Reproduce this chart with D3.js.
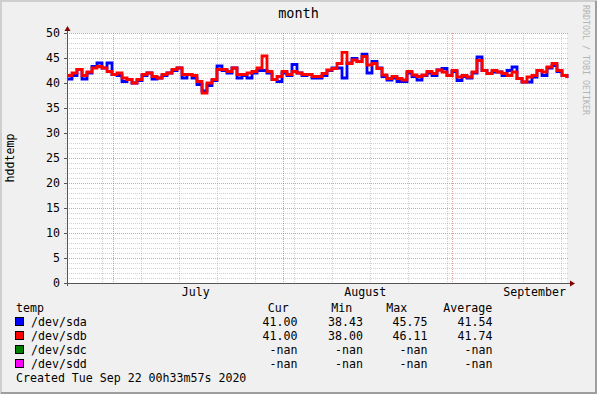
<!DOCTYPE html>
<html>
<head>
<meta charset="utf-8">
<script src="https://cdn.jsdelivr.net/npm/d3@7"></script>
<style>
body { margin: 0; background: #f0f0f0; }
text { font-family: "DejaVu Sans Mono", monospace; fill: #000; }
</style>
</head>
<body>
<script>
const w = 597, h = 394;
const x0 = 67, x1 = 567, yTop = 33, yBot = 283;

// rrd archive: 101 consolidated rows, evenly spaced
const startTime = new Date(2020, 5, 22, 12, 34);
const endTime = new Date(2020, 8, 22, 0, 34);

const sda = [40.8, 41.5, 42.7, 40.8, 42.0, 43.3, 44.0, 43.0, 44.0, 41.7,
             41.5, 40.3, 40.7, 40.0, 40.5, 41.5, 42.0, 40.8, 41.0, 41.5,
             42.0, 42.5, 43.0, 41.0, 41.7, 41.0, 39.7, 38.43, 39.5, 40.5,
             43.4, 42.5, 42.0, 43.0, 41.0, 41.5, 41.0, 42.0, 42.5, 42.5,
             42.0, 40.7, 40.3, 42.0, 41.5, 43.7, 42.0, 41.5, 41.7, 41.0,
             41.0, 41.5, 42.5, 43.0, 43.0, 41.0, 44.0, 44.9, 44.3, 45.75,
             42.0, 44.3, 43.0, 41.3, 40.6, 41.0, 40.3, 40.3, 42.0, 41.3,
             40.6, 41.5, 42.0, 41.5, 42.6, 42.9, 41.5, 42.3, 40.5, 41.3,
             41.0, 42.0, 45.2, 42.5, 41.9, 42.2, 42.2, 41.5, 42.5, 43.2,
             40.9, 40.2, 40.2, 41.2, 42.5, 41.5, 43.0, 43.5, 42.3, 41.5, 41.0];
const sdb = [41.5, 42.0, 42.7, 41.5, 42.2, 43.0, 43.3, 43.0, 42.3, 41.7,
             42.0, 41.0, 40.7, 40.0, 40.7, 41.7, 42.0, 41.3, 41.0, 41.7,
             42.0, 42.7, 43.0, 41.7, 41.7, 41.5, 40.3, 38.0, 40.0, 40.7,
             42.7, 42.7, 42.3, 43.0, 41.7, 41.7, 42.0, 42.3, 43.0, 45.4,
             42.3, 40.7, 41.3, 42.3, 41.7, 42.3, 42.0, 41.7, 41.7, 41.3,
             41.3, 41.9, 42.6, 42.9, 43.9, 46.11, 43.9, 44.6, 44.3, 45.3,
             43.6, 43.9, 42.9, 41.6, 40.9, 41.3, 40.9, 40.6, 42.3, 41.6,
             41.3, 41.6, 42.3, 41.9, 42.6, 42.2, 41.5, 42.5, 41.2, 41.5,
             41.2, 42.2, 44.5, 42.5, 41.9, 42.5, 42.2, 41.9, 41.5, 42.2,
             40.9, 40.2, 41.2, 41.5, 42.5, 42.2, 43.2, 43.9, 42.5, 41.5, 41.0];

const monthNames = ['July', 'August', 'September'];
const monthLabelDates = [new Date(2020, 6, 16), new Date(2020, 7, 16), new Date(2020, 8, 16)];

const legendNames = ['/dev/sda', '/dev/sdb', '/dev/sdc', '/dev/sdd'];
const legendColors = ['#0000ff', '#ff0000', '#007f00', '#ff00ff'];
const legendCur = ['41.00', '41.00', '-nan', '-nan'];
const legendMin = ['38.43', '38.00', '-nan', '-nan'];
const legendMax = ['45.75', '46.11', '-nan', '-nan'];
const legendAvg = ['41.54', '41.74', '-nan', '-nan'];

const step = (endTime - startTime) / (sda.length - 1);
const times = sda.map((d, i) => new Date(+startTime + i * step));

const svg = d3.select('body').append('svg').attr('width', w).attr('height', h);

// frame
svg.append('rect').attr('width', w).attr('height', h).attr('fill', '#f0f0f0');
svg.append('path').attr('d', `M1,${h} V1 H${w}`).attr('stroke', '#cfcfcf').attr('stroke-width', 2).attr('fill', 'none');
svg.append('path').attr('d', `M1,${h-1} H${w-1} V1`).attr('stroke', '#9e9e9e').attr('stroke-width', 2).attr('fill', 'none');

const x = d3.scaleTime().domain([startTime, endTime]).range([x0, x1]);
const y = d3.scaleLinear().domain([0, 50]).range([yBot, yTop]);

svg.append('rect').attr('x', x0).attr('y', yTop).attr('width', x1 - x0).attr('height', yBot - yTop).attr('fill', '#fff');

const gridMinor = 'rgba(140,140,140,0.4)';
const gridMajor = 'rgba(190,40,40,0.45)';

// horizontal grid
const yMinor = d3.range(1, 51).filter(v => v % 5 != 0);
const yMajor = y.ticks(10);
svg.append('g').selectAll('line').data(yMinor).join('line')
  .attr('x1', x0 - 2).attr('x2', x1 + 2)
  .attr('y1', d => y(d) + 0.5).attr('y2', d => y(d) + 0.5)
  .attr('stroke', gridMinor).attr('stroke-dasharray', '1,1');
svg.append('g').selectAll('line').data(yMajor.filter(d => d > 0)).join('line')
  .attr('x1', x0 - 2).attr('x2', x1 + 2)
  .attr('y1', d => y(d) + 0.5).attr('y2', d => y(d) + 0.5)
  .attr('stroke', gridMajor).attr('stroke-dasharray', '1,1');

// vertical grid: mondays and months
const weeks = d3.timeMonday.range(startTime, endTime);
const months = d3.timeMonth.range(startTime, endTime);
svg.append('g').selectAll('line').data(weeks).join('line')
  .attr('x1', d => Math.round(x(d)) + 0.5).attr('x2', d => Math.round(x(d)) + 0.5)
  .attr('y1', yTop).attr('y2', yBot + 2)
  .attr('stroke', gridMinor).attr('stroke-dasharray', '1,1');
svg.append('g').selectAll('line').data(months).join('line')
  .attr('x1', d => Math.round(x(d)) + 0.5).attr('x2', d => Math.round(x(d)) + 0.5)
  .attr('y1', yTop).attr('y2', yBot + 2)
  .attr('stroke', gridMajor).attr('stroke-dasharray', '1,1');

// series
const line = d3.line().x((d, i) => x(times[i])).y(d => y(d)).curve(d3.curveStepAfter);
svg.append('path').datum(sda).attr('d', line).attr('fill', 'none')
  .attr('stroke', '#0000ff').attr('stroke-width', 2.8);
svg.append('path').datum(sdb).attr('d', line).attr('fill', 'none')
  .attr('stroke', '#ff0000').attr('stroke-width', 2.8);

// axes
const yAxis = svg.append('g').attr('transform', `translate(${x0},0)`)
  .call(d3.axisLeft(y).tickValues(yMajor).tickSize(3).tickPadding(4));
yAxis.select('.domain').remove();
yAxis.selectAll('line').attr('stroke', '#555');
yAxis.selectAll('text').style('font-family', '"DejaVu Sans Mono", monospace').style('font-size', '11.6px');

const xAxis = svg.append('g').attr('transform', `translate(0,${yBot})`)
  .call(d3.axisBottom(x).tickValues(monthLabelDates).tickSize(0).tickPadding(5)
    .tickFormat((d, i) => monthNames[i]));
xAxis.select('.domain').remove();
xAxis.selectAll('text').style('font-family', '"DejaVu Sans Mono", monospace').style('font-size', '11.6px');

svg.append('line').attr('x1', x0 + 0.5).attr('x2', x0 + 0.5).attr('y1', yBot + 3).attr('y2', yTop - 3)
  .attr('stroke', '#555');
svg.append('line').attr('x1', x0 - 3).attr('x2', x1 + 4).attr('y1', yBot + 0.5).attr('y2', yBot + 0.5)
  .attr('stroke', '#555');
svg.append('path').attr('d', `M${x0+0.5},${yTop-7} L${x0-2.5},${yTop-2} L${x0+3.5},${yTop-2} Z`).attr('fill', '#7f0000');
svg.append('path').attr('d', `M${x1+8},${yBot+0.5} L${x1+3},${yBot-2.5} L${x1+3},${yBot+3.5} Z`).attr('fill', '#7f0000');

// titles
svg.append('text').attr('x', w / 2).attr('y', 18).attr('text-anchor', 'middle')
  .style('font-size', '13.5px').text('month');
svg.append('text').attr('transform', 'translate(14,158) rotate(-90)').attr('text-anchor', 'middle')
  .style('font-size', '11.6px').text('hddtemp');
svg.append('text').attr('transform', 'translate(583,5) rotate(90)')
  .style('font-size', '8.3px').style('fill', '#b4b4b4').text('RRDTOOL / TOBI OETIKER');

// legend
const fs = '11.6px';
svg.append('text').attr('x', 16).attr('y', 312).style('font-size', fs).text('temp');
const heads = [['Cur', 267.7], ['Min', 331.3], ['Max', 386.3], ['Average', 443.3]];
heads.forEach(hd => svg.append('text').attr('x', hd[1]).attr('y', 312).style('font-size', fs).text(hd[0]));

const cols = [[legendCur, 297.5], [legendMin, 363], [legendMax, 427.4], [legendAvg, 492.4]];
const rows = svg.append('g').selectAll('g').data(legendNames).join('g')
  .attr('transform', (d, i) => `translate(0,${326 + i * 14})`);
rows.append('rect').attr('x', 15.5).attr('y', -8.5).attr('width', 8).attr('height', 8)
  .attr('fill', (d, i) => legendColors[i]).attr('stroke', '#000');
rows.append('text').attr('x', 31).attr('y', 0).style('font-size', fs).text(d => d);
cols.forEach(c => {
  rows.append('text').attr('x', c[1]).attr('y', 0).attr('text-anchor', 'end')
    .style('font-size', fs).text((d, i) => c[0][i]);
});

svg.append('text').attr('x', 16).attr('y', 382).style('font-size', fs)
  .text('Created Tue Sep 22 00h33m57s 2020');
</script>
</body>
</html>
